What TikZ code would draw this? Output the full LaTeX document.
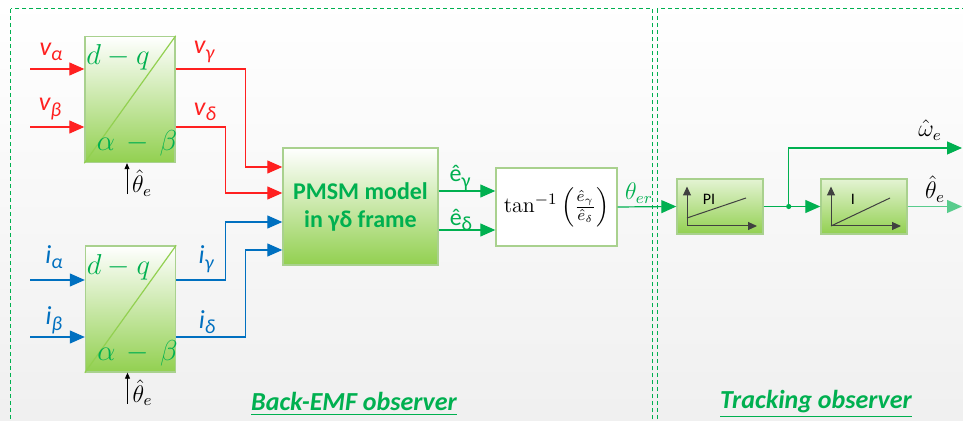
\documentclass[tikz,border=0pt]{standalone}
\usepackage{amsmath}
\usepackage{fontspec}
\newfontfamily\calibri{Carlito}
\usetikzlibrary{
    positioning,      % For placing nodes relative to each other
    arrows.meta,      % For the Triangle arrow tips
    calc              % For offsets from block anchors
}
\definecolor{obsgreen}{HTML}{00B050}
\definecolor{blkgreen}{HTML}{92D050}
\definecolor{blkedge}{HTML}{A9D18E}
\definecolor{sigred}{HTML}{FF2020}
\definecolor{sigblue}{HTML}{0070C0}
\definecolor{axisgray}{HTML}{404040}

% signal name with a lowered index
\newcommand{\sig}[2]{#1\raisebox{-0.45ex}{\fontsize{10}{10}\selectfont #2}}

\begin{document}
\begin{tikzpicture}[
    % one unit = one pixel of the layout, y pointing down
    x=0.5pt, y=-0.5pt,
    % Blocks with the green fade
    block/.style={
        draw=blkedge,
        line width=0.7pt,
        top color=white,
        bottom color=blkgreen,
        inner sep=0pt
    },
    tfblock/.style={block, minimum width=45pt, minimum height=63pt},
    ctrlblock/.style={block, top color=blkgreen!25, minimum width=43pt, minimum height=27.5pt},
    % Arrow tips
    bigtip/.style={
        -{Triangle[length=7.5pt, width=6.5pt]}
    },
    % Signal lines
    vline/.style={draw=sigred, line width=0.6pt, bigtip},
    iline/.style={draw=sigblue, line width=0.6pt, bigtip},
    eline/.style={draw=obsgreen, line width=0.6pt, bigtip},
    % Text styles
    vlabel/.style={text=sigred, font=\calibri\itshape\fontsize{13}{15}\selectfont},
    ilabel/.style={text=sigblue, font=\calibri\itshape\fontsize{13}{15}\selectfont},
    elabel/.style={text=obsgreen, font=\calibri\fontsize{12}{14}\selectfont},
    tftext/.style={text=obsgreen, font=\fontsize{14}{16}\selectfont, inner sep=0pt},
    anglabel/.style={font=\fontsize{12}{14}\selectfont, inner sep=0pt},
    obstitle/.style={text=obsgreen, font=\calibri\bfseries\itshape\fontsize{13}{15}\selectfont},
    dashframe/.style={draw=obsgreen, line width=0.5pt, dash pattern=on 2pt off 1.5pt}
]
    % 0. Background and the two dashed frames
    \useasboundingbox (0,0) rectangle (963,421);
    \begin{scope}
        \clip (0,0) rectangle (963,421);
        \fill[top color=white, bottom color=gray!12] (0,0) rectangle (963,421);
        \draw[dashframe] (10.5,9) rectangle (652,450);
        \draw[dashframe] (657,9) rectangle (990,450);
    \end{scope}

    % 1. The blocks
    \node[tfblock] (tfv) at (130,99.5) {};
    \node[tfblock] (tfi) at (130.5,309) {};
    \node[block, minimum width=77.5pt, minimum height=58.5pt, align=center,
          text=obsgreen, font=\calibri\bfseries\fontsize{12}{14}\selectfont]
        (pmsm) at (360.5,206.5) {PMSM model\\in γδ frame};
    \node[draw=blkedge, line width=0.7pt, fill=white, minimum width=60.5pt,
          minimum height=39pt, font=\fontsize{11}{13}\selectfont]
        (atan) at (556.5,207) {$\tan^{-1}\left(\frac{\hat{e}_\gamma}{\hat{e}_\delta}\right)$};
    \node[ctrlblock] (pi) at (720,206.5) {};
    \node[ctrlblock] (integ) at (864,206.5) {};

    % 2. Inside the d-q / alpha-beta blocks, angle input below
    \foreach \blk in {tfv,tfi} {
        \draw[blkgreen, line width=0.6pt] (\blk.south west) -- (\blk.north east);
        \node[tftext] (\blk-dq) at ($(\blk.center)+(-12,-42)$) {$d-q$};
        \node[tftext] (\blk-ab) at ($(\blk.center)+(7,44)$) {$\alpha\,-\,\beta$};
        \draw[line width=0.4pt, -{Triangle[length=3pt, width=2.5pt]}]
            ($(\blk.south)+(-3,31)$) -- ($(\blk.south)+(-3,0)$);
        \node[anglabel] (\blk-th) at ($(\blk.south)+(12,20)$) {$\hat{\theta}_e$};
    }

    % 3. Stationary frame inputs
    \coordinate (va) at (30,69);
    \coordinate (vb) at (30,127);
    \coordinate (ia) at (30,280);
    \coordinate (ib) at (30,337);
    \draw[vline] (va) -- (va -| tfv.west);
    \draw[vline] (vb) -- (vb -| tfv.west);
    \draw[iline] (ia) -- (ia -| tfi.west);
    \draw[iline] (ib) -- (ib -| tfi.west);

    \node[vlabel] (lva) at (51,52) {\sig{v}{α}};
    \node[vlabel] (lvb) at (50,109) {\sig{v}{β}};
    \node[ilabel] (lia) at (54,257) {\sig{i}{α}};
    \node[ilabel] (lib) at (54,320) {\sig{i}{β}};

    % 4. Estimated frame signals into the PMSM model
    \coordinate (pin1) at ($(pmsm.west)+(0,-39.5)$);
    \coordinate (pin2) at ($(pmsm.west)+(0,-13.5)$);
    \coordinate (pin3) at ($(pmsm.west)+(0,15.5)$);
    \coordinate (pin4) at ($(pmsm.west)+(0,43.5)$);
    \draw[vline] (tfv.east |- va) -- ++(70,0) |- (pin1);
    \draw[vline] (tfv.east |- vb) -- ++(50,0) |- (pin2);
    \draw[iline] (tfi.east |- ia) -- ++(49,0) |- (pin3);
    \draw[iline] (tfi.east |- ib) -- ++(69,0) |- (pin4);

    \node[vlabel] (lvg) at (204,52) {\sig{v}{γ}};
    \node[vlabel] (lvd) at (205,112) {\sig{v}{δ}};
    \node[ilabel] (lig) at (206,259) {\sig{i}{γ}};
    \node[ilabel] (lid) at (207,322) {\sig{i}{δ}};

    % 5. Back-EMF estimates to the angle error
    \coordinate (eg) at ($(pmsm.east)+(0,-15.5)$);
    \coordinate (ed) at ($(pmsm.east)+(0,23.5)$);
    \draw[eline] (eg) -- (eg -| atan.west);
    \draw[eline] (ed) -- (ed -| atan.west);
    \draw[eline] (atan.east) -- (pi.west);

    \node[elabel] (leg) at (460,178) {\sig{ê}{γ}};
    \node[elabel] (led) at (461,220) {\sig{ê}{δ}};
    \node[anglabel, text=obsgreen] (ler) at (639,193) {$\theta_{er}$};

    % 6. Tracking loop and its outputs
    \coordinate (jn) at ($(pi.east)+(25,0)$);
    \coordinate (wout) at (962,148);
    \coordinate (thout) at (962,206.5);
    \draw[eline] (pi.east) -- (integ.west);
    \fill[obsgreen] (jn) circle (1.3pt);
    \draw[eline] (jn) |- (wout);
    \draw[eline, draw=obsgreen!65] (integ.east) -- (thout);

    \node[anglabel] (lw) at (930,130) {$\hat{\omega}_e$};
    \node[anglabel] (lth) at (935,189) {$\hat{\theta}_e$};

    % 7. Ramp symbols in the PI and I blocks
    \foreach \blk/\txt/\lo in {pi/PI/11.5, integ/I/19.5} {
        \draw[axisgray, line width=0.5pt, -{Triangle[length=4.5pt, width=4pt]}]
            ($(\blk.center)+(-33,19.5)$) -- ($(\blk.center)+(-33,-20)$);
        \draw[axisgray, line width=0.5pt, -{Triangle[length=4.5pt, width=4pt]}]
            ($(\blk.center)+(-33,19.5)$) -- ($(\blk.center)+(37,19.5)$);
        \draw[axisgray, line width=0.5pt]
            ($(\blk.center)+(-33,\lo)$) -- ($(\blk.center)+(26,-8.5)$);
        \node[font=\calibri\fontsize{8}{9}\selectfont] (\blk-txt)
            at ($(\blk.center)+(-11,-7)$) {\txt};
    }

    % 8. Frame titles
    \node[obstitle] (bemf) at (354,404) {\underline{Back-EMF observer}};
    \node[obstitle] (trk) at (816,404) {\underline{Tracking observer}};
\end{tikzpicture}
\end{document}
